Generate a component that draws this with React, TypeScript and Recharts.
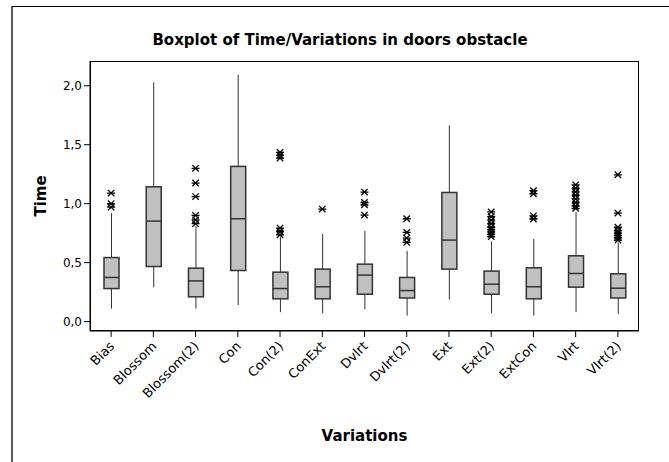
import { Bar, ComposedChart, Scatter, XAxis, YAxis } from 'recharts'

const CATEGORIES = ['Bias', 'Blossom', 'Blossom(2)', 'Con', 'Con(2)', 'ConExt', 'Dvlrt', 'Dvlrt(2)', 'Ext', 'Ext(2)', 'ExtCon', 'Vlrt', 'Vlrt(2)']
const WHISKER_LOW = [0.11, 0.29, 0.11, 0.14, 0.08, 0.07, 0.105, 0.05, 0.185, 0.07, 0.05, 0.08, 0.065]
const Q1 = [0.28, 0.467, 0.21, 0.433, 0.193, 0.193, 0.232, 0.2, 0.445, 0.232, 0.193, 0.292, 0.2]
const MEDIAN = [0.374, 0.852, 0.345, 0.872, 0.28, 0.295, 0.394, 0.263, 0.691, 0.317, 0.295, 0.408, 0.283]
const Q3 = [0.543, 1.143, 0.453, 1.316, 0.419, 0.445, 0.487, 0.374, 1.095, 0.428, 0.456, 0.558, 0.405]
const WHISKER_HIGH = [0.92, 2.03, 0.81, 2.094, 0.72, 0.742, 0.77, 0.6, 1.664, 0.68, 0.7, 0.93, 0.67]
const OUTLIERS = [
  [1.09, 1.0, 0.97],
  [],
  [1.3, 1.175, 1.06, 0.9, 0.863, 0.83],
  [],
  [1.435, 1.41, 1.387, 0.793, 0.764, 0.736],
  [0.954],
  [1.098, 1.01, 0.99, 0.903],
  [0.872, 0.756, 0.708, 0.671],
  [],
  [0.93, 0.89, 0.86, 0.83, 0.8, 0.78, 0.76, 0.74, 0.72],
  [1.11, 1.084, 0.897, 0.87],
  [1.16, 1.13, 1.1, 1.07, 1.04, 1.01, 0.98, 0.96],
  [1.245, 0.92, 0.8, 0.77, 0.75, 0.73, 0.71, 0.69],
]
const Y_TICKS = [0, 0.5, 1, 1.5, 2]

const FONT = '"DejaVu Sans", sans-serif'
const BOX_FILL = '#c0c0c0'
const BOX_STROKE = '#333333'

const boxData = CATEGORIES.map((name, i) => ({
  name,
  low: WHISKER_LOW[i],
  q1: Q1[i],
  median: MEDIAN[i],
  q3: Q3[i],
  high: WHISKER_HIGH[i],
}))

const outlierData = CATEGORIES.flatMap((name, i) => OUTLIERS[i].map((value) => ({ name, value })))

// box drawn inside the range bar [low, high]; inner levels mapped linearly on the bar's pixel span
function BoxShape(props: any) {
  const { x, y, width, height, payload } = props
  const { low, high, q1, median, q3 } = payload
  const py = (v: number) => y + (height * (high - v)) / (high - low)
  const cx = x + width / 2
  return (
    <g>
      <line x1={cx} x2={cx} y1={py(high)} y2={py(q3)} stroke={BOX_STROKE} strokeWidth={1} />
      <line x1={cx} x2={cx} y1={py(q1)} y2={py(low)} stroke={BOX_STROKE} strokeWidth={1} />
      <rect x={x} y={py(q3)} width={width} height={py(q1) - py(q3)} fill={BOX_FILL} stroke={BOX_STROKE} strokeWidth={1.5} />
      <line x1={x} x2={x + width} y1={py(median)} y2={py(median)} stroke={BOX_STROKE} strokeWidth={1.5} />
    </g>
  )
}

function Asterisk(props: any) {
  const { cx, cy } = props
  const r = 4
  const d = 3.2
  return (
    <g stroke="#000" strokeWidth={1.3}>
      <line x1={cx - d} y1={cy - d} x2={cx + d} y2={cy + d} />
      <line x1={cx - d} y1={cy + d} x2={cx + d} y2={cy - d} />
      <line x1={cx - r} y1={cy} x2={cx + r} y2={cy} />
    </g>
  )
}

function CategoryTick(props: any) {
  const { x, y, payload } = props
  const tx = x + 4
  const ty = y + 8
  return (
    <text x={tx} y={ty} transform={`rotate(-45 ${tx} ${ty})`} textAnchor="end" fontSize={13} fontFamily={FONT} fill="#000">
      {payload.value}
    </text>
  )
}

export default function App() {
  return (
    <div style={{ position: 'absolute', left: 0, top: 0, width: 669, height: 462, overflow: 'hidden', background: '#fff' }}>
      <div
        style={{
          position: 'absolute',
          left: 11,
          top: 6,
          width: 700,
          height: 500,
          borderLeft: '2px solid #5a5a5a',
          borderTop: '1px solid #000',
        }}
      />
      <div
        style={{
          position: 'absolute',
          left: 90,
          width: 500,
          top: 31,
          textAlign: 'center',
          fontFamily: FONT,
          fontWeight: 'bold',
          fontSize: 15,
          color: '#000',
          whiteSpace: 'nowrap',
        }}
      >
        Boxplot of Time/Variations in doors obstacle
      </div>
      <div
        style={{
          position: 'absolute',
          left: 41,
          top: 196,
          transform: 'translate(-50%, -50%) rotate(-90deg)',
          fontFamily: FONT,
          fontWeight: 'bold',
          fontSize: 15,
          color: '#000',
        }}
      >
        Time
      </div>
      <div
        style={{
          position: 'absolute',
          left: 90,
          width: 549,
          top: 427,
          textAlign: 'center',
          fontFamily: FONT,
          fontWeight: 'bold',
          fontSize: 15,
          color: '#000',
        }}
      >
        Variations
      </div>
      <div style={{ position: 'absolute', left: 0, top: 0 }}>
        <ComposedChart width={669} height={462} data={boxData} margin={{ top: 61, right: 30, bottom: 0, left: 0 }}>
          <XAxis
            dataKey="name"
            type="category"
            allowDuplicatedCategory={false}
            height={131}
            interval={0}
            tickSize={6}
            tickMargin={2}
            tick={<CategoryTick />}
            axisLine={{ stroke: '#000' }}
            tickLine={{ stroke: '#000' }}
          />
          <YAxis
            type="number"
            domain={[-0.08, 2.21]}
            allowDataOverflow
            ticks={Y_TICKS}
            width={90}
            tickSize={6}
            tickMargin={2}
            tickFormatter={(v: number) => v.toFixed(1).replace('.', ',')}
            tick={{ fontSize: 12, fontFamily: FONT, fill: '#000' }}
            axisLine={{ stroke: '#000' }}
            tickLine={{ stroke: '#000' }}
          />
          <Bar
            data={boxData}
            dataKey={(d: any) => [d.low, d.high]}
            barSize={15}
            shape={<BoxShape />}
            isAnimationActive={false}
          />
          <Scatter data={outlierData} dataKey="value" shape={<Asterisk />} isAnimationActive={false} />
        </ComposedChart>
      </div>
      {/* plot area frame */}
      <div
        style={{
          position: 'absolute',
          left: 90,
          top: 61,
          width: 549,
          height: 270,
          border: '1px solid #000',
          boxSizing: 'border-box',
          pointerEvents: 'none',
        }}
      />
    </div>
  )
}
